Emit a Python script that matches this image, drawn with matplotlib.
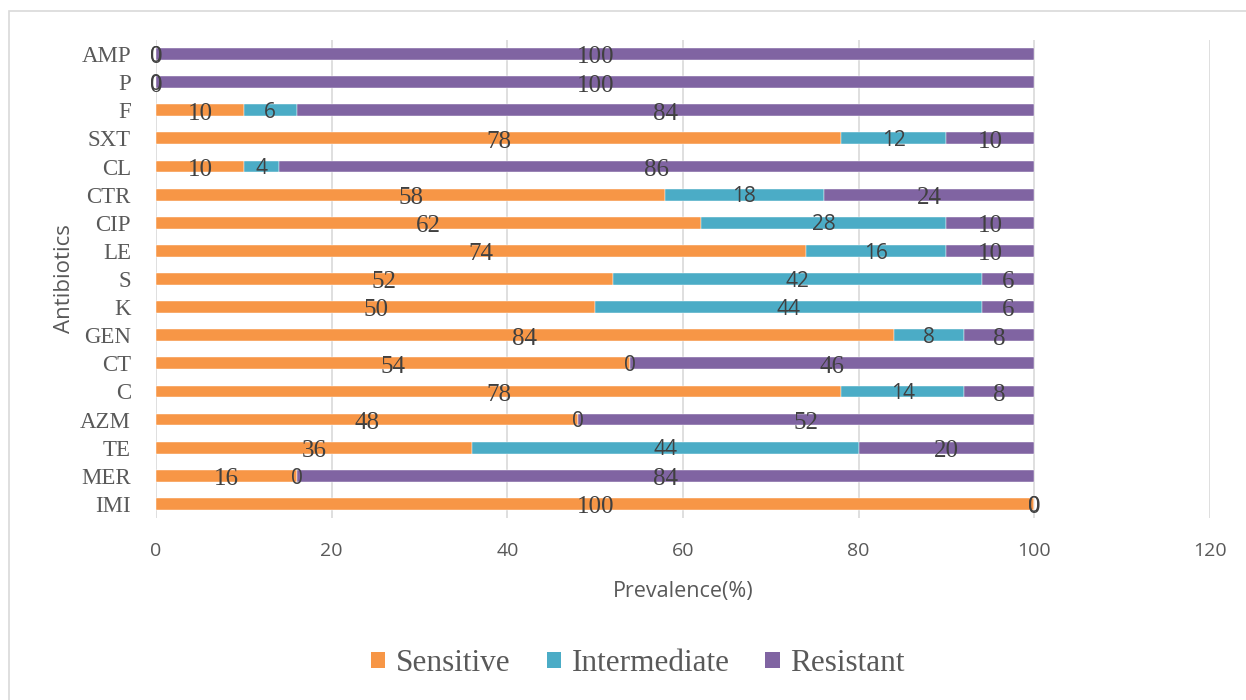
import matplotlib
matplotlib.use('Agg')
import matplotlib.pyplot as plt
from matplotlib.patches import Rectangle, Patch
import numpy as np

# -------------------------------
# Data (bottom to top)
# -------------------------------
antibiotics = ['IMI', 'MER', 'TE', 'AZM', 'C', 'CT', 'GEN', 'K', 'S',
               'LE', 'CIP', 'CTR', 'CL', 'SXT', 'F', 'P', 'AMP']
sensitive = [100, 16, 36, 48, 78, 54, 84, 50, 52, 74, 62, 58, 10, 78, 10, 0, 0]
intermediate = [0, 0, 44, 0, 14, 0, 8, 44, 42, 16, 28, 18, 4, 12, 6, 0, 0]
resistant = [0, 84, 20, 52, 8, 46, 8, 6, 6, 10, 10, 24, 86, 10, 84, 100, 100]
x_ticks = [0, 20, 40, 60, 80, 100, 120]

C_SENS = '#F79646'
C_INT = '#4BACC6'
C_RES = '#8064A2'
GRID = '#D9D9D9'
TXT = '#595959'
LBL = '#404040'
SERIF = 'Liberation Serif'
SANS = 'Open Sans'

fig = plt.figure(figsize=(12.46, 7.0), dpi=100)
ax = fig.add_axes([0.1252, 0.26, 0.8459, 0.6829])

# outer chart frame (runs off the right and bottom edges)
fig.patches.append(Rectangle((8.5 / 1246, -0.05), 1.1, 1 - 10.5 / 700 + 0.05,
                             transform=fig.transFigure, fill=False,
                             edgecolor=GRID, linewidth=1.2, clip_on=False))

y = np.arange(len(antibiotics))
sens = np.array(sensitive)
inter = np.array(intermediate)
res = np.array(resistant)
h = 0.42

ax.barh(y, sens, height=h, color=C_SENS, edgecolor='white', linewidth=0.3, zorder=3)
ax.barh(y, inter, left=sens, height=h, color=C_INT, edgecolor='white', linewidth=0.3, zorder=3)
ax.barh(y, res, left=sens + inter, height=h, color=C_RES, edgecolor='white', linewidth=0.3, zorder=3)

# data labels (zero-width segments overlap, as in the original)
for i in range(len(antibiotics)):
    ax.text(sens[i] / 2, y[i] - 0.12, str(sens[i]), ha='center', va='center',
            fontsize=18, family=SERIF, color=LBL, zorder=5)
    ax.text(sens[i] + inter[i] / 2, y[i] - 0.08, str(inter[i]), ha='center', va='center',
            fontsize=15, family=SANS, color=LBL, zorder=5)
    ax.text(sens[i] + inter[i] + res[i] / 2, y[i] - 0.12, str(res[i]), ha='center', va='center',
            fontsize=18, family=SERIF, color=LBL, zorder=5)

ax.set_xlim(0, 120)
ax.set_ylim(-0.5, len(antibiotics) - 0.5)
ax.set_xticks(x_ticks)
ax.set_yticks(y)
ax.set_yticklabels(antibiotics, family=SERIF, fontsize=16.5, color=TXT)
for lab in ax.get_xticklabels():
    lab.set_family(SANS)
    lab.set_fontsize(14)
    lab.set_color(TXT)
ax.tick_params(axis='both', length=0)
ax.tick_params(axis='x', pad=17)
ax.tick_params(axis='y', pad=18)

ax.grid(axis='x', color=GRID, linewidth=1.2, zorder=0)
for sp in ax.spines.values():
    sp.set_visible(False)

ax.set_xlabel('Prevalence(%)', family=SANS, fontsize=15.5, color=TXT)
ax.xaxis.set_label_coords(0.5, -0.132)
ax.set_ylabel('Antibiotics', family=SANS, fontsize=16, color=TXT)
ax.yaxis.set_label_coords(-0.077, 0.5)

handles = [Patch(facecolor=C_SENS, label='Sensitive'),
           Patch(facecolor=C_INT, label='Intermediate'),
           Patch(facecolor=C_RES, label='Resistant')]
fig.legend(handles=handles, loc='center', bbox_to_anchor=(0.512, 0.052), ncol=3,
           frameon=False, prop={'family': SERIF, 'size': 22.5}, labelcolor=TXT,
           handlelength=0.45, handleheight=0.45, handletextpad=0.35, columnspacing=1.15)

fig.savefig('out.png', dpi=100)
